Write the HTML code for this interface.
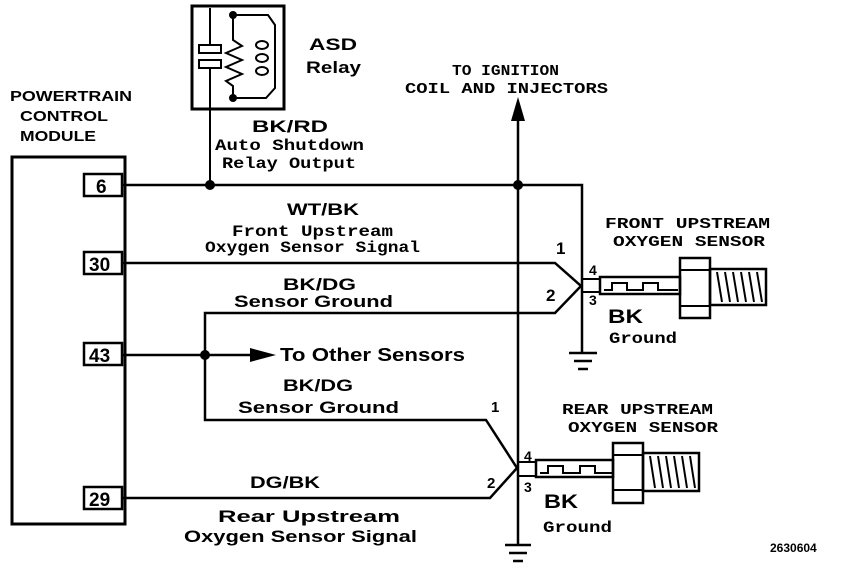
<!DOCTYPE html>
<html><head><style>
html,body{margin:0;padding:0;background:#fff;}
svg{display:block;}
text{font-family:"Liberation Sans",sans-serif;font-weight:bold;fill:#000;}
.m{font-family:"Liberation Mono",monospace;}
</style></head><body>
<svg width="848" height="572" viewBox="0 0 848 572" xmlns="http://www.w3.org/2000/svg">
<g stroke="#000" fill="none">
<rect x="12" y="157" width="113" height="367" stroke-width="3"/>
<rect x="84" y="174" width="38" height="22" stroke-width="2.5"/>
<rect x="84" y="252" width="38" height="22" stroke-width="2.5"/>
<rect x="84" y="343" width="38" height="22" stroke-width="2.5"/>
<rect x="84" y="487" width="38" height="22" stroke-width="2.5"/>
<rect x="192" y="6" width="92" height="103" stroke-width="3"/>
<line x1="210" y1="8" x2="210" y2="45" stroke-width="2"/>
<rect x="199" y="45" width="22" height="8" stroke-width="2"/>
<rect x="199" y="60" width="22" height="8" stroke-width="2"/>
<line x1="210" y1="68" x2="210" y2="185" stroke-width="2"/>
<polyline points="233,15 233,40 242,46 226,53 242,60 226,67 242,74 226,81 233,86 233,100" stroke-width="2"/>
<polyline points="233,15 268,15 275,25 275,88 266,98 233,98" stroke-width="2"/>
<ellipse cx="262" cy="45" rx="6" ry="4" stroke-width="2"/>
<ellipse cx="262" cy="58" rx="6" ry="4" stroke-width="2"/>
<ellipse cx="262" cy="71" rx="6" ry="4" stroke-width="2"/>
<polyline points="122,185 582,185 582,353" stroke-width="2.5"/>
<line x1="518" y1="118" x2="518" y2="545" stroke-width="2.5"/>
<line x1="569" y1="353" x2="597" y2="353" stroke-width="2.5"/>
<line x1="574" y1="361" x2="592" y2="361" stroke-width="2.5"/>
<line x1="578" y1="369" x2="588" y2="369" stroke-width="2.5"/>
<line x1="505" y1="545" x2="531" y2="545" stroke-width="2.5"/>
<line x1="509" y1="553" x2="527" y2="553" stroke-width="2.5"/>
<line x1="513" y1="561" x2="523" y2="561" stroke-width="2.5"/>
<polyline points="122,263 555,263 581,286 555,313 205,313 205,420 486,420 517,468 490,498 122,498" stroke-width="2.5"/>
<line x1="122" y1="355" x2="252" y2="355" stroke-width="2.5"/>
<rect x="582" y="279" width="18" height="13" stroke-width="2"/>
<rect x="600" y="277" width="80" height="17" stroke-width="2.5"/>
<polyline points="604,290 612,290 612,283 627,283 627,290 643,290 643,283 658,283 658,290 678,290" stroke-width="2"/>
<rect x="680" y="258" width="30" height="60" stroke-width="2.5"/>
<line x1="680" y1="270" x2="710" y2="270" stroke-width="2"/>
<line x1="680" y1="306" x2="710" y2="306" stroke-width="2"/>
<rect x="710" y="269" width="56" height="36" stroke-width="2.5"/>
<rect x="518" y="462" width="18" height="14" stroke-width="2"/>
<rect x="536" y="460" width="77" height="17" stroke-width="2.5"/>
<polyline points="540,473 548,473 548,466 563,466 563,473 580,473 580,466 595,466 595,473 612,473" stroke-width="2"/>
<rect x="613" y="443" width="30" height="60" stroke-width="2.5"/>
<line x1="613" y1="455" x2="643" y2="455" stroke-width="2"/>
<line x1="613" y1="490" x2="643" y2="490" stroke-width="2"/>
<rect x="643" y="453" width="56" height="38" stroke-width="2.5"/>
</g>
<g stroke="#000" stroke-width="2">
<line x1="717" y1="272" x2="722" y2="302"/><line x1="725" y1="272" x2="730" y2="302"/><line x1="733" y1="272" x2="738" y2="302"/><line x1="741" y1="272" x2="746" y2="302"/><line x1="749" y1="272" x2="754" y2="302"/><line x1="757" y1="272" x2="762" y2="302"/>
<line x1="650" y1="456" x2="655" y2="488"/><line x1="658" y1="456" x2="663" y2="488"/><line x1="666" y1="456" x2="671" y2="488"/><line x1="674" y1="456" x2="679" y2="488"/><line x1="682" y1="456" x2="687" y2="488"/><line x1="690" y1="456" x2="695" y2="488"/>
</g>
<g fill="#000">
<circle cx="210" cy="185" r="5"/><circle cx="518" cy="185" r="5"/><circle cx="205" cy="355" r="5"/>
<circle cx="233" cy="15" r="4"/><circle cx="233" cy="98" r="4"/>
<polygon points="518,97 511,121 525,121"/>
<polygon points="276,355 250,348 250,362"/>
</g>
<text x="10" y="101" font-size="15" textLength="122" lengthAdjust="spacingAndGlyphs">POWERTRAIN</text>
<text x="20" y="121" font-size="15" textLength="88" lengthAdjust="spacingAndGlyphs">CONTROL</text>
<text x="20" y="141" font-size="15" textLength="76" lengthAdjust="spacingAndGlyphs">MODULE</text>
<text x="96" y="193" font-size="19">6</text>
<text x="89" y="271" font-size="19">30</text>
<text x="89" y="362" font-size="19">43</text>
<text x="89" y="506" font-size="19">29</text>
<text x="309" y="50" font-size="17" textLength="48" lengthAdjust="spacingAndGlyphs">ASD</text>
<text x="306" y="73" font-size="17" textLength="55" lengthAdjust="spacingAndGlyphs">Relay</text>
<text x="252" y="132" font-size="17" textLength="76" lengthAdjust="spacingAndGlyphs">BK/RD</text>
<text x="215" y="150" font-size="16" class="m" textLength="149" lengthAdjust="spacingAndGlyphs">Auto Shutdown</text>
<text x="222" y="168" font-size="16" class="m" textLength="134" lengthAdjust="spacingAndGlyphs">Relay Output</text>
<text x="452" y="75" font-size="15" class="m" textLength="107" lengthAdjust="spacingAndGlyphs">TO IGNITION</text>
<text x="405" y="93" font-size="15" class="m" textLength="203" lengthAdjust="spacingAndGlyphs">COIL AND INJECTORS</text>
<text x="287" y="215" font-size="17" textLength="72" lengthAdjust="spacingAndGlyphs">WT/BK</text>
<text x="232" y="236" font-size="16" class="m" textLength="161" lengthAdjust="spacingAndGlyphs">Front Upstream</text>
<text x="205" y="252" font-size="16" class="m" textLength="215" lengthAdjust="spacingAndGlyphs">Oxygen Sensor Signal</text>
<text x="283" y="290" font-size="17" textLength="73" lengthAdjust="spacingAndGlyphs">BK/DG</text>
<text x="234" y="307" font-size="17" textLength="159" lengthAdjust="spacingAndGlyphs">Sensor Ground</text>
<text x="280" y="361" font-size="18" textLength="185" lengthAdjust="spacingAndGlyphs">To Other Sensors</text>
<text x="283" y="391" font-size="17" textLength="70" lengthAdjust="spacingAndGlyphs">BK/DG</text>
<text x="238" y="413" font-size="17" textLength="161" lengthAdjust="spacingAndGlyphs">Sensor Ground</text>
<text x="250" y="488" font-size="17" textLength="70" lengthAdjust="spacingAndGlyphs">DG/BK</text>
<text x="218" y="522" font-size="17" textLength="182" lengthAdjust="spacingAndGlyphs">Rear Upstream</text>
<text x="184" y="542" font-size="17" textLength="233" lengthAdjust="spacingAndGlyphs">Oxygen Sensor Signal</text>
<text x="556" y="254" font-size="17">1</text>
<text x="546" y="301" font-size="17">2</text>
<text x="589" y="275" font-size="14">4</text>
<text x="589" y="305" font-size="14">3</text>
<text x="608" y="323" font-size="19" textLength="35" lengthAdjust="spacingAndGlyphs">BK</text>
<text x="609" y="343" font-size="16" class="m" textLength="68" lengthAdjust="spacingAndGlyphs">Ground</text>
<text x="605" y="228" font-size="15" class="m" textLength="165" lengthAdjust="spacingAndGlyphs">FRONT UPSTREAM</text>
<text x="613" y="246" font-size="15" class="m" textLength="152" lengthAdjust="spacingAndGlyphs">OXYGEN SENSOR</text>
<text x="491" y="412" font-size="15">1</text>
<text x="487" y="488" font-size="15">2</text>
<text x="524" y="461" font-size="14">4</text>
<text x="524" y="492" font-size="14">3</text>
<text x="544" y="508" font-size="19" textLength="34" lengthAdjust="spacingAndGlyphs">BK</text>
<text x="543" y="532" font-size="16" class="m" textLength="69" lengthAdjust="spacingAndGlyphs">Ground</text>
<text x="562" y="414" font-size="15" class="m" textLength="151" lengthAdjust="spacingAndGlyphs">REAR UPSTREAM</text>
<text x="568" y="432" font-size="15" class="m" textLength="150" lengthAdjust="spacingAndGlyphs">OXYGEN SENSOR</text>
<text x="770" y="552" font-size="12">2630604</text>
</svg>
</body></html>
